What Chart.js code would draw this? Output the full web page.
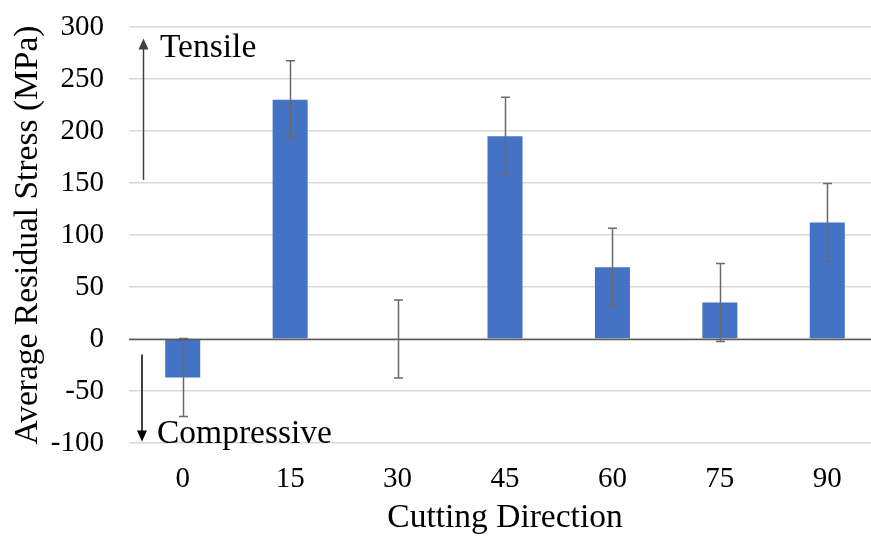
<!DOCTYPE html>
<html>
<head>
<meta charset="utf-8">
<script src="https://cdn.jsdelivr.net/npm/chart.js@4.4.1/dist/chart.umd.min.js"></script>
<style>
  html, body { margin: 0; padding: 0; background: #fff; overflow: hidden; }
  #wrap { width: 882px; height: 538px; position: relative; }
</style>
</head>
<body>
<div id="wrap"><canvas id="c"></canvas></div>
<script>
// Cutting direction (degrees)
const categories = ['0', '15', '30', '45', '60', '75', '90'];
// Average residual stress (MPa)
const stressValues = [-37, 230, 0, 195, 69, 35, 112];
// Error bar half-widths (MPa)
const stressErrors = [37.5, 37.5, 37.5, 37.5, 37.5, 37.5, 37.5];
// Y-axis tick range
const yTicks = { min: -100, max: 300, step: 50 };

const SERIF = '"Liberation Serif", "Times New Roman", serif';

// Draws the symmetric error bars and the zero baseline on top of the bars
const errorBars = {
  id: 'errorBars',
  afterDatasetsDraw(chart) {
    const { ctx, chartArea, scales: { y } } = chart;
    const meta = chart.getDatasetMeta(0);
    ctx.save();
    // zero line
    const y0 = Math.round(y.getPixelForValue(0)) + 0.5;
    ctx.strokeStyle = '#595959';
    ctx.lineWidth = 1.5;
    ctx.beginPath();
    ctx.moveTo(chartArea.left, y0);
    ctx.lineTo(chartArea.right, y0);
    ctx.stroke();
    // error bars
    ctx.strokeStyle = '#6a6a6a';
    ctx.lineWidth = 1.5;
    meta.data.forEach((bar, i) => {
      const v = stressValues[i], e = stressErrors[i];
      const x = Math.round(bar.x) + 0.5;
      const yt = y.getPixelForValue(v + e);
      const yb = y.getPixelForValue(v - e);
      ctx.beginPath();
      ctx.moveTo(x, yt); ctx.lineTo(x, yb);
      ctx.moveTo(x - 4.5, yt); ctx.lineTo(x + 4.5, yt);
      ctx.moveTo(x - 4.5, yb); ctx.lineTo(x + 4.5, yb);
      ctx.stroke();
    });
    ctx.restore();
  }
};

// Tensile / Compressive direction arrows with labels
const directionNotes = {
  id: 'directionNotes',
  afterDatasetsDraw(chart) {
    const { ctx, chartArea, scales: { y } } = chart;
    const ax = chartArea.left + 14;
    ctx.save();
    const arrow = (x, from, to, color) => {
      const y1 = y.getPixelForValue(from), y2 = y.getPixelForValue(to);
      const dir = y2 < y1 ? 1 : -1;
      ctx.strokeStyle = color; ctx.fillStyle = color; ctx.lineWidth = 1.5;
      ctx.beginPath();
      ctx.moveTo(x, y1); ctx.lineTo(x, y2 + dir * 8);
      ctx.stroke();
      ctx.beginPath();
      ctx.moveTo(x, y2);
      ctx.lineTo(x - 5, y2 + dir * 11);
      ctx.lineTo(x + 5, y2 + dir * 11);
      ctx.closePath();
      ctx.fill();
    };
    arrow(ax + 0.5, 153, 289, '#404040');
    arrow(ax - 1, -15, -98.5, '#000');
    ctx.fillStyle = '#000';
    ctx.font = '33.5px ' + SERIF;
    ctx.textBaseline = 'alphabetic';
    ctx.textAlign = 'left';
    ctx.fillText('Tensile', ax + 17, y.getPixelForValue(271));
    ctx.fillText('Compressive', ax + 14, y.getPixelForValue(-100));
    ctx.restore();
  }
};

new Chart(document.getElementById('c'), {
  type: 'bar',
  data: {
    labels: categories,
    datasets: [{
      data: stressValues,
      backgroundColor: '#4472C4',
      borderWidth: 0,
      categoryPercentage: 1,
      barPercentage: 0.326
    }]
  },
  options: {
    responsive: true,
    maintainAspectRatio: false,
    animation: false,
    layout: { padding: { top: 27, right: 1, left: 0, bottom: 0 } },
    plugins: { legend: { display: false }, tooltip: { enabled: false } },
    scales: {
      x: {
        grid: { display: false, drawTicks: false },
        border: { display: false },
        ticks: { color: '#000', font: { family: SERIF, size: 29 }, padding: 19 },
        title: { display: true, text: 'Cutting Direction', color: '#000',
                 font: { family: SERIF, size: 33.5 }, padding: { top: 0, bottom: 0 } },
        afterFit(s) { s.height = 95; s.paddingLeft = 0; s.paddingRight = 0; }
      },
      y: {
        min: yTicks.min, max: yTicks.max,
        grid: { color: '#d9d9d9', lineWidth: 1.5, drawTicks: false },
        border: { display: false },
        ticks: { stepSize: yTicks.step, color: '#000', font: { family: SERIF, size: 29 }, padding: 25 },
        title: { display: true, text: 'Average Residual Stress (MPa)', color: '#000',
                 font: { family: SERIF, size: 33.5 }, padding: { top: 8, bottom: 0 } },
        afterFit(s) { s.width = 129; s.paddingTop = 0; s.paddingBottom = 0; }
      }
    }
  },
  plugins: [errorBars, directionNotes]
});
</script>
</body>
</html>
